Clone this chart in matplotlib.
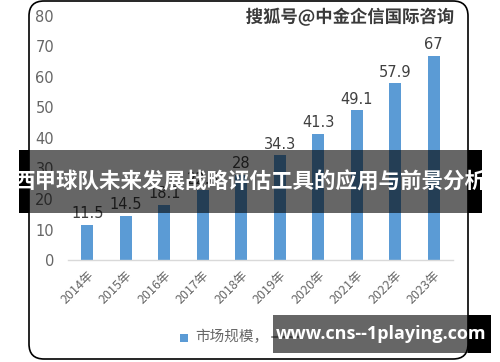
import matplotlib
matplotlib.use("Agg")
from matplotlib import pyplot as plt
import matplotlib.patches as mpatches
import matplotlib.patheffects as pe

plt.rcParams['font.family'] = ['Noto Sans CJK SC', 'DejaVu Sans']

# data
years = ['2014年', '2015年', '2016年', '2017年', '2018年',
         '2019年', '2020年', '2021年', '2022年', '2023年']
market_size = [11.5, 14.5, 18.1, 22.8, 28, 34.3, 41.3, 49.1, 57.9, 67]
value_labels = ['11.5', '14.5', '18.1', '22.8', '28', '34.3', '41.3', '49.1', '57.9', '67']
yticks = [0, 10, 20, 30, 40, 50, 60, 70, 80]

title = '西甲球队未来发展战略评估工具的应用与前景分析'
watermark = '搜狐号@中金企信国际咨询'
site = 'www.cns--1playing.com'

bar_color = '#5B9BD5'
text_gray = '#666666'

fig = plt.figure(figsize=(5, 3.62), dpi=100)
fig.patch.set_facecolor('white')
px = fig.dpi_scale_trans  # inches; 1 px = 0.01 in
H = 3.62

def py(y):
    # pixel y from top -> inches from bottom
    return H - y / 100.0

# card with rounded border
card = mpatches.FancyBboxPatch((0.29 + 0.15, py(359) + 0.15), 4.39 - 0.30, 3.58 - 0.30,
                               boxstyle='round,pad=0.15', transform=px,
                               facecolor='white', edgecolor='black', linewidth=1.2, zorder=-1)
fig.patches.append(card)

ax = fig.add_axes([68 / 500, (362 - 260) / 362, 385 / 500, 244 / 362])
ax.set_facecolor('none')
x = list(range(len(years)))
ax.bar(x, market_size, width=0.32, color=bar_color, zorder=2)
for xi, v, lab in zip(x, market_size, value_labels):
    ax.text(xi, v + 1.2, lab, ha='center', va='bottom', fontsize=10.5,
            color='#404040', family=['DejaVu Sans'])

ax.set_xlim(-0.5, 9.5)
ax.set_ylim(0, 80)
ax.set_yticks(yticks)
ax.set_yticklabels([str(t) for t in yticks], color=text_gray, fontsize=10.5, family=['DejaVu Sans'])
ax.set_xticks(x)
ax.set_xticklabels(years, rotation=45, ha='right', rotation_mode='anchor',
                   color=text_gray, fontsize=9)
ax.tick_params(axis='y', length=0, pad=10)
ax.tick_params(axis='x', length=0, pad=6)
for s in ['top', 'right', 'left']:
    ax.spines[s].set_visible(False)
ax.spines['bottom'].set_color('#d9d9d9')
ax.spines['bottom'].set_linewidth(1)

# legend (partly covered)
fig.patches.append(mpatches.Rectangle((1.80, py(342)), 0.08, 0.08, transform=px,
                                      facecolor=bar_color, edgecolor='none', zorder=3))
fig.text(1.95, py(337), '市场规模，', transform=px, fontsize=10.5, color=text_gray,
         va='center', ha='left')
fig.lines.append(plt.Line2D([2.72, 2.98], [py(337), py(337)], transform=px,
                            color='#7f7f7f', linewidth=1.2, zorder=3))

# watermark
fig.text(3.50, py(17), watermark, transform=px, fontsize=12.5, fontweight='bold',
         color='#3a3a3a', ha='center', va='center',
         path_effects=[pe.withStroke(linewidth=2, foreground='white')])

# banner: black outside the card, translucent over it
fig.patches.append(mpatches.Rectangle((0.19, py(213)), 0.10, 0.635, transform=px,
                                      facecolor='black', edgecolor='none', zorder=5))
fig.patches.append(mpatches.Rectangle((4.68, py(213)), 0.14, 0.635, transform=px,
                                      facecolor='black', edgecolor='none', zorder=5))
fig.patches.append(mpatches.Rectangle((0.29, py(213)), 4.39, 0.635, transform=px,
                                      facecolor='black', alpha=0.6, edgecolor='none', zorder=6))
fig.text(2.50, py(182), title, transform=px, fontsize=15.5, fontweight='bold',
         color='white', ha='center', va='center', zorder=7)

# site box
fig.patches.append(mpatches.Rectangle((4.68, py(353)), 0.23, 0.38, transform=px,
                                      facecolor='black', edgecolor='none', zorder=5))
fig.patches.append(mpatches.Rectangle((2.73, py(353)), 1.95, 0.38, transform=px,
                                      facecolor='black', alpha=0.6, edgecolor='none', zorder=6))
fig.text(3.81, py(334), site, transform=px, fontsize=13, fontweight='bold',
         color='white', ha='center', va='center', family=['Open Sans', 'DejaVu Sans'], zorder=7)

plt.savefig('out.png', dpi=100)
